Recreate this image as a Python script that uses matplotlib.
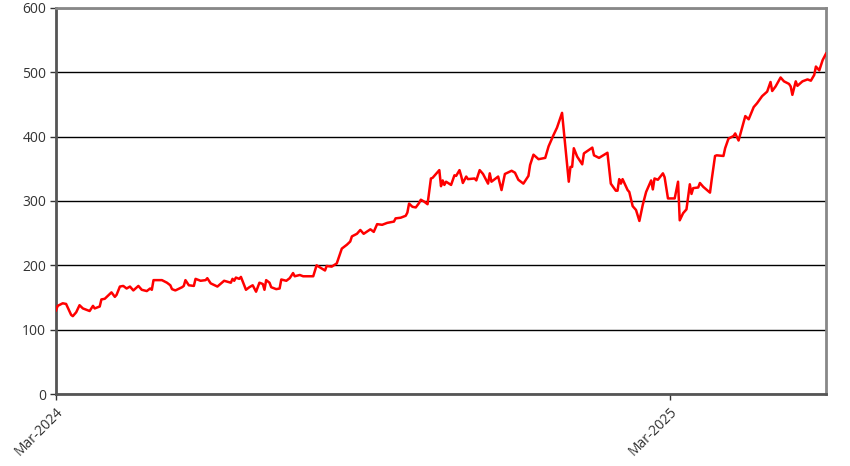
import numpy as np
import matplotlib.pyplot as plt
import matplotlib.dates as mdates

# days since 1 Mar 2024 and the value read at that day
start = np.datetime64('2024-03-01')
days = [0, 1, 4, 6, 9, 10, 12, 14, 16, 20, 22, 23, 26, 27, 29, 33, 35, 36, 38, 40,
        42, 44, 46, 49, 51, 54, 56, 57, 58, 63, 66, 68, 69, 71, 75, 76, 77, 79, 82, 83,
        86, 89, 90, 92, 96, 100, 104, 105, 106, 107, 109, 110, 113, 115, 117, 119, 121, 123, 124, 125,
        127, 128, 131, 133, 134, 137, 139, 141, 142, 145, 147, 153, 155, 160, 161, 164, 167, 170, 173, 175,
        176, 179, 181, 183, 187, 189, 191, 194, 197, 201, 202, 205, 208, 209, 210, 212, 214, 216, 217, 219,
        221, 223, 224, 228, 229, 230, 231, 232, 235, 237, 238, 240, 241, 242, 244, 245, 249, 250, 252, 254,
        257, 258, 259, 263, 265, 267, 271, 273, 275, 278, 281, 282, 284, 287, 291, 293, 294, 296, 298, 301,
        305, 306, 307, 308, 310, 313, 314, 319, 320, 323, 328, 330, 333, 334, 335, 336, 337, 340, 341, 343,
        345, 347, 349, 351, 354, 355, 356, 358, 361, 362, 364, 368, 370, 371, 373, 375, 377, 378, 379, 382,
        383, 385, 389, 390, 392, 393, 397, 398, 400, 403, 404, 406, 408, 410, 412, 415, 417, 420, 423, 425,
        426, 428, 431, 433, 436, 437, 438, 440, 441, 444, 447, 449, 451, 452, 454, 456, 458]
values = [130, 137, 141, 140, 123, 121, 127, 138, 133, 129, 137, 133, 136, 147, 148, 158, 151, 154, 167, 168,
          164, 167, 161, 168, 162, 160, 164, 162, 177, 177, 173, 169, 163, 161, 166, 168, 177, 169, 168, 179,
          176, 177, 180, 172, 167, 176, 173, 179, 176, 181, 179, 182, 162, 166, 169, 159, 173, 171, 162, 177,
          173, 166, 163, 164, 178, 176, 180, 188, 183, 185, 183, 183, 200, 192, 199, 198, 203, 226, 232, 237,
          245, 249, 255, 249, 256, 252, 264, 263, 266, 268, 273, 274, 277, 282, 296, 291, 290, 297, 302, 299,
          295, 335, 336, 348, 323, 332, 325, 330, 325, 340, 339, 348, 339, 328, 338, 334, 335, 332, 348, 342,
          327, 343, 330, 338, 317, 342, 347, 344, 333, 327, 339, 356, 372, 365, 367, 385, 391, 403, 414, 437,
          330, 353, 353, 382, 369, 357, 374, 383, 371, 367, 375, 327, 316, 316, 334, 327, 334, 317, 314, 292,
          286, 269, 294, 314, 332, 318, 335, 333, 343, 337, 304, 304, 330, 270, 281, 287, 326, 311, 320, 321,
          328, 322, 313, 333, 370, 371, 370, 382, 397, 401, 405, 394, 413, 432, 427, 446, 452, 463, 470, 485,
          471, 478, 492, 486, 482, 478, 465, 486, 479, 486, 489, 487, 496, 509, 503, 519, 529]
tick_dates = ['2024-03-01', '2025-03-01']
y_ticks = [0, 100, 200, 300, 400, 500, 600]

dates = start + np.array(days).astype('timedelta64[D]')

fig = plt.figure(figsize=(8.5, 4.66), dpi=100)
ax = fig.add_axes([56 / 850, 1 - 394 / 466, 770 / 850, 386 / 466])

ax.plot(dates, values, color='#ff0000', lw=1.8, zorder=3)

ax.set_xlim(dates[0], dates[-1])
ax.set_ylim(0, 600)
ax.set_yticks(y_ticks)
ax.yaxis.grid(True, color='black', lw=1)
ax.set_axisbelow(True)

ax.set_xticks(np.array(tick_dates, dtype='datetime64[D]'))
ax.xaxis.set_major_formatter(mdates.DateFormatter('%b-%Y'))
for lbl in ax.get_xticklabels():
    lbl.set_rotation(45)
    lbl.set_ha('right')
    lbl.set_rotation_mode('anchor')

ax.tick_params(axis='both', direction='out', length=4, width=1, color='#333333',
               labelsize=10, labelcolor='#333333')
ax.tick_params(axis='y', pad=3)

for s in ['left', 'bottom']:
    ax.spines[s].set_color('#555555')
    ax.spines[s].set_linewidth(2)
for s in ['top', 'right']:
    ax.spines[s].set_color('#888888')
    ax.spines[s].set_linewidth(2)

plt.rcParams['font.family'] = ['Open Sans', 'DejaVu Sans']
for lbl in ax.get_xticklabels() + ax.get_yticklabels():
    lbl.set_family(['Open Sans', 'DejaVu Sans'])

fig.savefig('out.png', dpi=100)
